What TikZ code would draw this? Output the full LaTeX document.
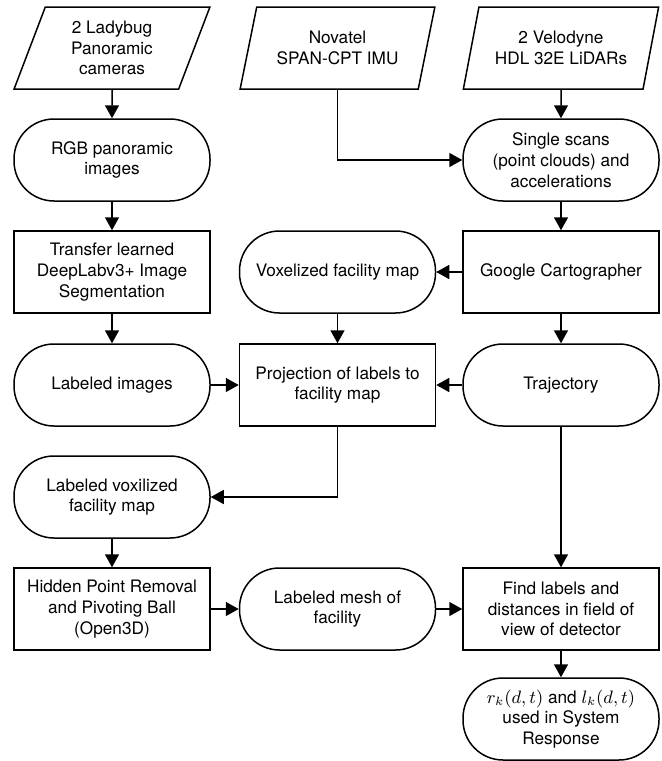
\documentclass[tikz,border=0pt]{standalone}
\usepackage{fontspec}
\setmainfont{TeX Gyre Heros}
\usetikzlibrary{shapes.geometric,arrows.meta}

\begin{document}
\begin{tikzpicture}[x=0.5pt,y=-0.5pt,
    caja/.style={draw, line width=0.75pt, minimum width=98pt, minimum height=41pt,
        inner sep=1pt, align=center, font=\fontsize{8.6}{10.35}\selectfont},
    proceso/.style={caja, rectangle},
    terminal/.style={caja, rectangle, rounded corners=20pt},
    entrada/.style={caja, trapezium, trapezium left angle=71, trapezium right angle=109,
        trapezium stretches=true},
    flecha/.style={line width=0.75pt, -{Triangle[length=6.5pt,width=7pt]}}]
    \useasboundingbox (0,0) rectangle (661,761);

    % Entradas (sensores)
    \node[entrada] (cam) at (112,48) {2 Ladybug\\Panoramic\\cameras};
    \node[entrada] (imu) at (337.5,48) {Novatel\\SPAN-CPT IMU};
    \node[entrada] (lidar) at (561,48) {2 Velodyne\\HDL 32E LiDARs};

    % Columna izquierda
    \node[terminal] (rgb) at (112,160) {RGB panoramic\\images};
    \node[proceso] (transfer) at (112,272) {Transfer learned\\DeepLabv3+ Image\\Segmentation};
    \node[terminal] (labimg) at (112,385) {Labeled images};
    \node[terminal] (labvox) at (112,497) {Labeled voxilized\\facility map};
    \node[proceso] (hpr) at (112,609) {Hidden Point Removal\\and Pivoting Ball\\(Open3D)};

    % Columna central
    \node[terminal] (voxmap) at (337.5,272) {Voxelized facility map};
    \node[proceso] (proj) at (337.5,385) {Projection of labels to\\facility map};
    \node[terminal] (mesh) at (337.5,609) {Labeled mesh of\\facility};

    % Columna derecha
    \node[terminal] (scans) at (561,160) {Single scans\\(point clouds) and\\accelerations};
    \node[proceso] (carto) at (561,272) {Google Cartographer};
    \node[terminal] (traj) at (561,385) {Trajectory};
    \node[proceso] (find) at (561,609) {Find labels and\\distances in field of\\view of detector};
    \node[terminal] (resp) at (561,719) {$r_k(d,t)$ and $l_k(d,t)$\\used in System\\Response};

    % Flechas rectas
    \foreach \a/\b in {cam/rgb, rgb/transfer, transfer/labimg, labimg/proj,
        labvox/hpr, hpr/mesh, mesh/find, lidar/scans, scans/carto, carto/voxmap,
        carto/traj, voxmap/proj, traj/proj, traj/find, find/resp} {
        \draw[flecha] (\a) -- (\b);
    }

    % Flechas con codo
    \draw[flecha] (imu.south) |- (scans.west);
    \draw[flecha] (proj.south) |- (labvox.east);

\end{tikzpicture}
\end{document}
